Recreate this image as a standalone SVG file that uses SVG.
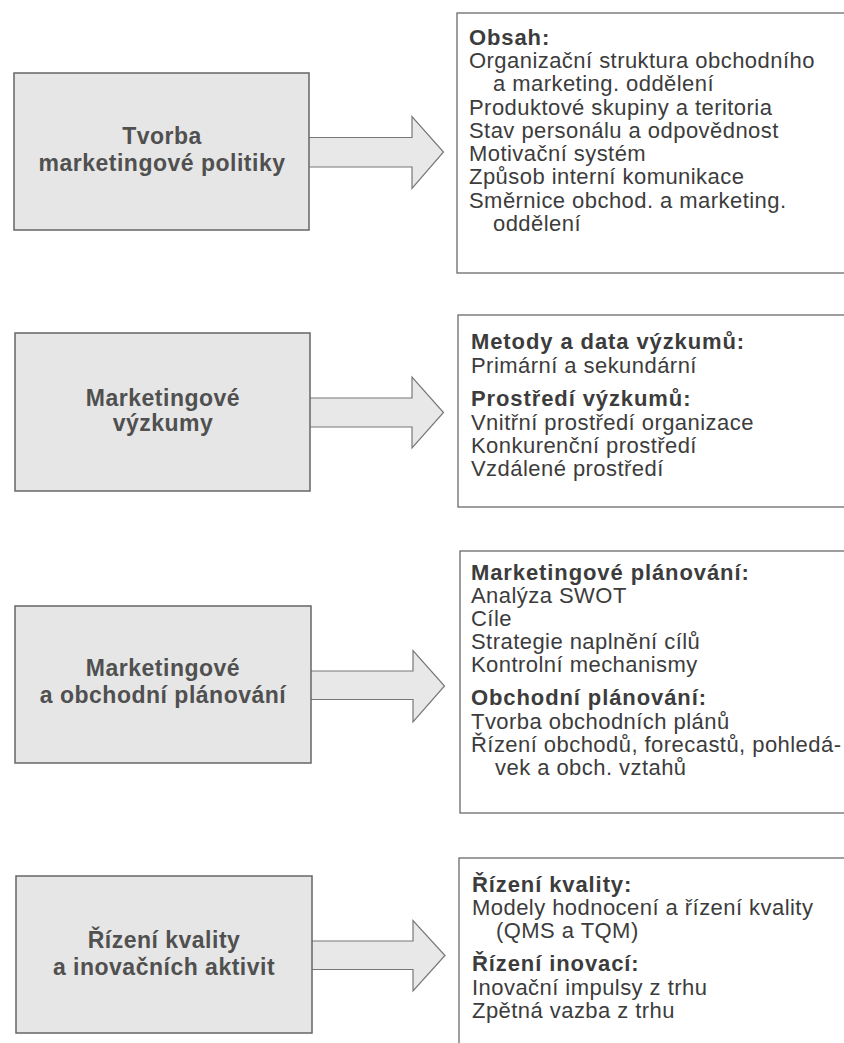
<svg xmlns="http://www.w3.org/2000/svg" width="844" height="1043" viewBox="0 0 844 1043">
<style>
.bg{fill:#ffffff}
.lbox{fill:#e6e6e6;stroke:#666666;stroke-width:1.5}
.rbox{fill:#ffffff;stroke:#6a6a6a;stroke-width:1.3}
.arrow{fill:#e8e8e8;stroke:#777777;stroke-width:1.2;stroke-linejoin:miter}
.lt{font-family:"Liberation Sans",Arial,sans-serif;font-weight:bold;font-size:23px;letter-spacing:0.5px;fill:#505050;text-anchor:middle}
.h{font-family:"Liberation Sans",Arial,sans-serif;font-weight:bold;font-size:22px;letter-spacing:0.9px;fill:#3c3c3c}
.t{font-family:"Liberation Sans",Arial,sans-serif;font-size:22px;letter-spacing:0.45px;fill:#3c3c3c}
</style>
<rect class="bg" x="0" y="0" width="844" height="1043"/>
<g id="connectors">
<path class="arrow" d="M309,137.5 H412 V116.5 L443.5,152 L412,188.5 V167 H309"/>
<path class="arrow" d="M310,398 H412 V377 L443.5,412.5 L412,448 V427 H310"/>
<path class="arrow" d="M311,671 H413 V650.5 L444.5,686 L413,722 V699.5 H311"/>
<path class="arrow" d="M312,941 H413 V920.5 L445,955.5 L413,991 V969.5 H312"/>
</g>
<g id="node1">
<rect class="lbox" x="14" y="73" width="295" height="157"/>
<text class="lt" x="162" y="144">Tvorba</text>
<text class="lt" x="162" y="171">marketingové politiky</text>
</g>
<g id="node2">
<rect class="lbox" x="15" y="333" width="295" height="158"/>
<text class="lt" x="163" y="406">Marketingové</text>
<text class="lt" x="163" y="431">výzkumy</text>
</g>
<g id="node3">
<rect class="lbox" x="15" y="606" width="296" height="157"/>
<text class="lt" x="163" y="676">Marketingové</text>
<text class="lt" x="163" y="703">a obchodní plánování</text>
</g>
<g id="node4">
<rect class="lbox" x="16" y="876" width="296" height="157"/>
<text class="lt" x="164" y="948">Řízení kvality</text>
<text class="lt" x="164" y="975">a inovačních aktivit</text>
</g>
<g id="detail1">
<rect class="rbox" x="457" y="13" width="400" height="260"/>
<text class="h" x="469" y="45">Obsah:</text>
<text class="t" x="469" y="68">Organizační struktura obchodního</text>
<text class="t" x="493" y="91">a marketing. oddělení</text>
<text class="t" x="469" y="115">Produktové skupiny a teritoria</text>
<text class="t" x="469" y="138">Stav personálu a odpovědnost</text>
<text class="t" x="469" y="161">Motivační systém</text>
<text class="t" x="469" y="184">Způsob interní komunikace</text>
<text class="t" x="469" y="208">Směrnice obchod. a marketing.</text>
<text class="t" x="493" y="231">oddělení</text>
</g>
<g id="detail2">
<rect class="rbox" x="458" y="315" width="400" height="192"/>
<text class="h" x="471" y="349">Metody a data výzkumů:</text>
<text class="t" x="471" y="373">Primární a sekundární</text>
<text class="h" x="471" y="406">Prostředí výzkumů:</text>
<text class="t" x="471" y="430">Vnitřní prostředí organizace</text>
<text class="t" x="471" y="453">Konkurenční prostředí</text>
<text class="t" x="471" y="476">Vzdálené prostředí</text>
</g>
<g id="detail3">
<rect class="rbox" x="460" y="551" width="400" height="262"/>
<text class="h" x="471" y="580">Marketingové plánování:</text>
<text class="t" x="471" y="603">Analýza SWOT</text>
<text class="t" x="471" y="626">Cíle</text>
<text class="t" x="471" y="649">Strategie naplnění cílů</text>
<text class="t" x="471" y="672">Kontrolní mechanismy</text>
<text class="h" x="471" y="705">Obchodní plánování:</text>
<text class="t" x="471" y="729">Tvorba obchodních plánů</text>
<text class="t" x="471" y="752">Řízení obchodů, forecastů, pohledá-</text>
<text class="t" x="495" y="775">vek a obch. vztahů</text>
</g>
<g id="detail4">
<rect class="rbox" x="459" y="858" width="400" height="200"/>
<text class="h" x="472" y="892">Řízení kvality:</text>
<text class="t" x="472" y="915">Modely hodnocení a řízení kvality</text>
<text class="t" x="496" y="938">(QMS a TQM)</text>
<text class="h" x="472" y="971">Řízení inovací:</text>
<text class="t" x="472" y="995">Inovační impulsy z trhu</text>
<text class="t" x="472" y="1018">Zpětná vazba z trhu</text>
</g>
</svg>
